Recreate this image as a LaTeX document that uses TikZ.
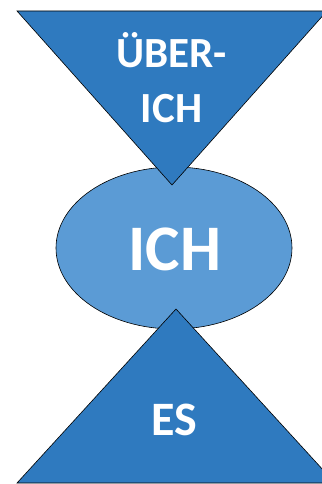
\documentclass[tikz,border=0pt]{standalone}
\usepackage{fontspec}
\setmainfont{Carlito}
\definecolor{triblue}{HTML}{2F7ABF}
\definecolor{ellblue}{HTML}{5B9BD5}
\tikzset{
  shapeline/.style={draw=black, line width=0.6pt},
  lbl/.style={text=white, anchor=base, inner sep=0pt}
}
\begin{document}
\begin{tikzpicture}[x=1pt,y=-1pt]
\useasboundingbox (0,0) rectangle (321,484);
\fill[white] (0,0) rectangle (321,484);
\draw[shapeline, fill=ellblue] (174,248) ellipse [x radius=118, y radius=81];
\draw[shapeline, fill=triblue] (17,11) -- (327,11) -- (172,185) -- cycle;
\draw[shapeline, fill=triblue] (17,483) -- (335,483) -- (176,309) -- cycle;
\node[lbl, font=\fontsize{43}{43}\bfseries\selectfont] (ueber) at (171.5,68) {ÜBER-};
\node[lbl, font=\fontsize{43}{43}\bfseries\selectfont] (ich1) at (171.5,122) {ICH};
\node[lbl, font=\fontsize{65}{65}\bfseries\selectfont] (ich) at (175,270) {ICH};
\node[lbl, font=\fontsize{48}{48}\bfseries\selectfont] (es) at (174.5,435) {ES};
\end{tikzpicture}
\end{document}
